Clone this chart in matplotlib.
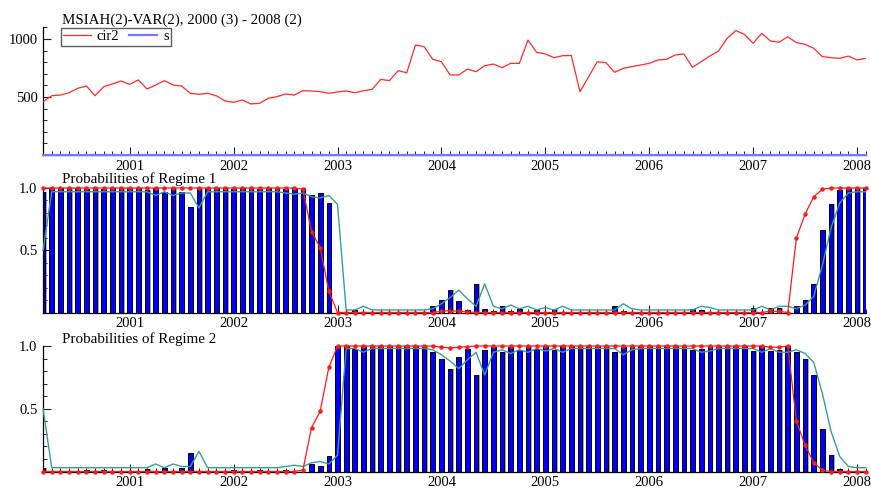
import numpy as np
import matplotlib
matplotlib.use("Agg")
import matplotlib.pyplot as plt
from matplotlib.ticker import MultipleLocator, FixedLocator

plt.rcParams['font.family'] = ['Liberation Serif', 'DejaVu Serif']

# Monthly sample 2000(3) - 2008(2)
start_year, start_month, n_obs = 2000, 3, 96
years = [2001, 2002, 2003, 2004, 2005, 2006, 2007, 2008]

cir2 = [459, 511, 517, 537, 575, 595, 511, 589, 612, 638,
        609, 647, 569, 603, 641, 603, 595, 532, 523, 532,
        511, 466, 454, 474, 440, 446, 489, 503, 526, 517,
        554, 552, 546, 532, 543, 552, 537, 554, 566, 652,
        641, 727, 709, 948, 934, 825, 804, 690, 690, 741,
        718, 770, 784, 753, 790, 790, 991, 885, 871, 839,
        856, 858, 546, 675, 804, 796, 713, 747, 762, 776,
        790, 819, 825, 862, 871, 756, 804, 853, 896, 1006,
        1072, 1040, 963, 1049, 983, 972, 1020, 968, 954, 920,
        848, 839, 833, 853, 819, 833]
s = [0.0] * 96

# Regime 1 probabilities: filtered (bars), smoothed (red), predicted (teal)
filt1 = [0.97, 1.00, 1.00, 1.00, 1.00, 0.99, 1.00, 0.99, 1.00, 1.00,
         1.00, 1.00, 0.98, 1.00, 0.97, 1.00, 0.97, 0.85, 1.00, 1.00,
         1.00, 1.00, 0.99, 1.00, 1.00, 0.99, 1.00, 1.00, 0.99, 1.00,
         1.00, 0.94, 0.96, 0.88, 0.00, 0.00, 0.02, 0.00, 0.00, 0.00,
         0.00, 0.00, 0.00, 0.00, 0.00, 0.05, 0.10, 0.18, 0.09, 0.02,
         0.23, 0.03, 0.01, 0.05, 0.01, 0.03, 0.00, 0.02, 0.00, 0.03,
         0.00, 0.00, 0.00, 0.00, 0.00, 0.00, 0.05, 0.01, 0.00, 0.00,
         0.00, 0.00, 0.00, 0.00, 0.00, 0.03, 0.02, 0.00, 0.00, 0.00,
         0.00, 0.00, 0.04, 0.00, 0.04, 0.035, 0.00, 0.05, 0.10, 0.23,
         0.66, 0.87, 0.98, 1.00, 1.00, 1.00]
smooth1 = [1.00, 1.00, 1.00, 1.00, 1.00, 1.00, 1.00, 1.00, 1.00, 1.00,
           1.00, 1.00, 1.00, 1.00, 1.00, 1.00, 1.00, 1.00, 1.00, 1.00,
           1.00, 1.00, 1.00, 1.00, 1.00, 1.00, 1.00, 1.00, 1.00, 1.00,
           0.99, 0.65, 0.52, 0.17, 0.00, 0.00, 0.00, 0.00, 0.00, 0.00,
           0.00, 0.00, 0.00, 0.00, 0.00, 0.00, 0.01, 0.015, 0.01, 0.005,
           0.00, 0.00, 0.00, 0.00, 0.00, 0.00, 0.00, 0.00, 0.00, 0.00,
           0.00, 0.00, 0.00, 0.00, 0.00, 0.00, 0.00, 0.00, 0.00, 0.00,
           0.00, 0.00, 0.00, 0.00, 0.00, 0.00, 0.00, 0.00, 0.00, 0.00,
           0.00, 0.00, 0.00, 0.00, 0.01, 0.01, 0.00, 0.60, 0.79, 0.93,
           0.99, 1.00, 1.00, 1.00, 1.00, 1.00]
pred1 = [0.50, 0.97, 0.97, 0.97, 0.97, 0.97, 0.97, 0.97, 0.97, 0.97,
         0.97, 0.97, 0.97, 0.94, 0.97, 0.94, 0.96, 0.96, 0.84, 0.97,
         0.97, 0.97, 0.97, 0.97, 0.97, 0.97, 0.97, 0.97, 0.96, 0.95,
         0.96, 0.93, 0.92, 0.94, 0.87, 0.02, 0.02, 0.05, 0.02, 0.02,
         0.02, 0.02, 0.02, 0.02, 0.02, 0.03, 0.07, 0.12, 0.18, 0.11,
         0.05, 0.23, 0.05, 0.03, 0.06, 0.03, 0.05, 0.02, 0.04, 0.02,
         0.05, 0.02, 0.02, 0.02, 0.02, 0.02, 0.02, 0.07, 0.03, 0.02,
         0.02, 0.02, 0.02, 0.02, 0.02, 0.02, 0.05, 0.04, 0.02, 0.02,
         0.02, 0.02, 0.02, 0.05, 0.02, 0.05, 0.05, 0.03, 0.06, 0.13,
         0.38, 0.68, 0.88, 0.96, 0.97, 0.97]

# Two-regime model: regime 2 probabilities are the complements
filt2 = [1 - v for v in filt1]
smooth2 = [1 - v for v in smooth1]
pred2 = [1 - v for v in pred1]

t = start_year + (start_month - 1 + np.arange(n_obs)) / 12.0
x_lo, x_hi = t[0], t[-1]
month_ticks = start_year + np.arange(0, 12 * 9 + 1) / 12.0
month_ticks = month_ticks[(month_ticks >= x_lo - 1e-9) & (month_ticks <= x_hi + 1e-9)]

W, H = 871, 490
fig = plt.figure(figsize=(W / 100, H / 100), dpi=100)


def frame(ax, ymin, ymax, major, minor, fmt, xpad=4):
    for side in ('top', 'right'):
        ax.spines[side].set_visible(False)
    for side in ('left', 'bottom'):
        ax.spines[side].set_linewidth(0.9)
        ax.spines[side].set_color('black')
    ax.set_xlim(x_lo, x_hi)
    ax.set_ylim(ymin, ymax)
    ax.xaxis.set_major_locator(FixedLocator(years))
    ax.xaxis.set_minor_locator(FixedLocator(month_ticks))
    ax.set_xticklabels([str(y) for y in years])
    ax.set_yticks(major)
    ax.set_yticklabels([fmt(v) for v in major])
    ax.yaxis.set_minor_locator(MultipleLocator(minor))
    ax.tick_params(which='major', direction='in', length=6, width=0.8,
                   labelsize=10.5, pad=4, color='#222222')
    ax.tick_params(axis='x', which='major', pad=xpad)
    ax.tick_params(which='minor', direction='in', length=3, width=0.7,
                   color='#222222')
    ax.patch.set_alpha(0)


def px_axes(x0, x1, y_top, y_bot):
    return fig.add_axes([x0 / W, 1 - y_bot / H, (x1 - x0) / W, (y_bot - y_top) / H])


x_left, x_right = 43.1, 865.7

# Top panel: levels
ax1 = px_axes(x_left, x_right, 27.4, 155)
frame(ax1, 0, 1100, [500, 1000], 100, lambda v: f"{v:d}", xpad=3.5)
ax1.plot(t, cir2, color='#ff2a2a', lw=0.9, label='cir2', zorder=3)
ax1.plot(t, s, color='#7878ff', lw=1.6, label='s', zorder=4, clip_on=False)
leg = ax1.legend(loc='upper left', bbox_to_anchor=(61 / W, 1 - 28 / H),
                 bbox_transform=fig.transFigure, ncol=2, frameon=True,
                 fancybox=False, shadow=False, fontsize=10.5,
                 handlelength=1.9, handletextpad=0.4, columnspacing=0.7,
                 borderpad=0.15, borderaxespad=0)
leg.get_frame().set_edgecolor('#333333')
leg.get_frame().set_linewidth(1.0)
fig.text(62 / W, 1 - 20 / H, 'MSIAH(2)-VAR(2), 2000 (3) - 2008 (2)',
         fontsize=10.8, va='center', ha='left')

bar_w = 0.045
shadow_dx = 0.012


def prob_panel(ax, filt, smooth, pred):
    frame(ax, 0, 1.0, [0.5, 1.0], 0.1, lambda v: f"{v:.1f}", xpad=3.5)
    ax.bar(t + shadow_dx, filt, width=bar_w, color='#a8a8a8', linewidth=0, zorder=1)
    ax.bar(t, filt, width=bar_w, color='#0000ff', edgecolor='black',
           linewidth=0.7, zorder=2)
    ax.plot(t, pred, color='#3a9c9c', lw=1.0, zorder=3, clip_on=False)
    ax.plot(t, smooth, color='#ff1a1a', lw=0.9, marker='o', ms=2.2,
            zorder=4, clip_on=False)


ax2 = px_axes(x_left, x_right, 188, 312.5)
prob_panel(ax2, filt1, smooth1, pred1)
fig.text(62 / W, 1 - 179.5 / H, 'Probabilities of Regime 1',
         fontsize=10.8, va='center', ha='left')

ax3 = px_axes(x_left, x_right, 346, 471.5)
prob_panel(ax3, filt2, smooth2, pred2)
fig.text(62 / W, 1 - 339 / H, 'Probabilities of Regime 2',
         fontsize=10.8, va='center', ha='left')

fig.savefig('out.png', dpi=100)
